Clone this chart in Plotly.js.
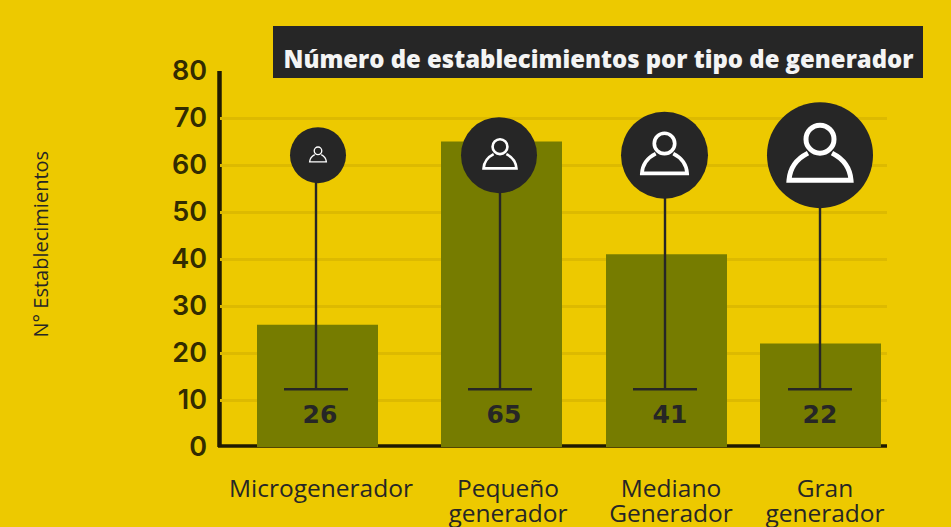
<!DOCTYPE html>
<html><head><meta charset="utf-8">
<script src="https://cdn.plot.ly/plotly-3.0.1.min.js"></script>
<style>html,body{margin:0;padding:0;background:#EDC900;overflow:hidden}</style>
</head><body><div id="chart" style="width:951px;height:527px"></div>
<script>
const categories = ['Microgenerador','Pequeño<br>generador','Mediano<br>Generador','Gran<br>generador'];
const establishments = [26,65,41,22];
const yTicks = [0,10,20,30,40,50,60,70,80];
const barCentres = [97.5,281.5,446.5,600.5];
const labelCentres = [101,288,451,605];
const valueCentres = [100,284,450,600];
const stemCentres = [96,280,445,600];
const circleCentres = [98,279,444.5,600];
const circleDiameters = [56,76,87,106];
const iconScales = [0.27,0.53,0.73,1];
const sharpLevels = [30,40,60];

const INK = '#262626';
const AXIS = '#1F1A00';
const circleLevel = 62.1, crossLevel = 12.3, valueLevel = 6.4;

const stemX = [], stemY = [];
stemCentres.forEach(x => {
  stemX.push(x, x, null, x-32, x+32, null);
  stemY.push(crossLevel, circleLevel, null, crossLevel, crossLevel, null);
});

function iconShapes(cx, s){
  const base = {type:'path', xref:'x', yref:'y', xsizemode:'pixel', ysizemode:'pixel',
    xanchor:cx, yanchor:circleLevel, layer:'above', fillcolor:'rgba(0,0,0,0)',
    line:{color:'#ffffff', width:5*s}};
  const p = v => (v*s).toFixed(2);
  const head = `M0,${p(30)} C${p(7.7)},${p(30)} ${p(14)},${p(23.7)} ${p(14)},${p(16)} C${p(14)},${p(8.3)} ${p(7.7)},${p(2)} 0,${p(2)} C${p(-7.7)},${p(2)} ${p(-14)},${p(8.3)} ${p(-14)},${p(16)} C${p(-14)},${p(23.7)} ${p(-7.7)},${p(30)} 0,${p(30)} Z`;
  const body = `M${p(-12)},${p(2)} C${p(-22)},${p(-3)} ${p(-30)},${p(-12)} ${p(-31)},${p(-25)} L${p(31)},${p(-25)} C${p(30)},${p(-12)} ${p(22)},${p(-3)} ${p(12)},${p(2)}`;
  return [Object.assign({},base,{path:head}), Object.assign({},base,{path:body})];
}

const shapes = [];
sharpLevels.forEach(v => shapes.push({type:'line', xref:'paper', yref:'y', x0:0, x1:1, y0:v, y1:v,
  layer:'below', line:{color:'#B89A00', width:1}}));
// axis lines sit under the bars, as in the reference
shapes.push({type:'line', xref:'paper', yref:'paper', x0:-2/667, x1:1, y0:1/376, y1:1/376,
  layer:'below', line:{color:AXIS, width:3.5}});
shapes.push({type:'line', xref:'paper', yref:'paper', x0:-0.5/667, x1:-0.5/667, y0:0, y1:1,
  layer:'below', line:{color:AXIS, width:4.5}});
shapes.push({type:'rect', xref:'paper', yref:'paper',
  x0:(273-220)/667, x1:(923-220)/667, y0:(447-78)/376, y1:(447-26)/376,
  fillcolor:INK, line:{width:0}, layer:'above'});
circleCentres.forEach((x,i) => shapes.push(...iconShapes(x+(i===1?1:0), iconScales[i])));

const data = [
  {type:'bar', x:barCentres, y:establishments, width:121, marker:{color:'#767C00', line:{width:0}}, hoverinfo:'skip'},
  {type:'scatter', mode:'lines', x:stemX, y:stemY, line:{color:INK, width:2.4}, connectgaps:false, hoverinfo:'skip'},
  {type:'scatter', mode:'markers', x:circleCentres, y:circleCentres.map(()=>circleLevel),
   marker:{color:INK, size:circleDiameters, opacity:1, line:{width:0}}, cliponaxis:false, hoverinfo:'skip'},
  {type:'scatter', mode:'text', x:valueCentres, y:establishments.map(()=>valueLevel),
   text:establishments.map(String), textposition:'middle center',
   textfont:{family:'DejaVu Sans', size:25, color:INK, weight:700}, hoverinfo:'skip'}
];

const layout = {
  width:951, height:527, showlegend:false,
  paper_bgcolor:'#EDC900', plot_bgcolor:'#EDC900',
  margin:{l:220, r:64, t:71, b:80},
  title:{text:'Número de establecimientos por tipo de generador',
    font:{family:'Open Sans', size:23.9, color:'#F4F4F4', weight:800},
    xref:'container', yref:'container', x:598.5/951, y:1-60/527, xanchor:'center', yanchor:'middle'},
  xaxis:{range:[0,667], tickvals:labelCentres,
    ticktext:categories.map(c => c.split('<br>').map(l => `<span style="font-size:24.5px">${l}</span>`).join('<br>')),
    showgrid:false, zeroline:false, showline:false, ticks:'', ticklabelstandoff:30,
    tickfont:{family:'Open Sans', size:19.2, color:INK, weight:500}, tickangle:0},
  yaxis:{range:[0,80], tickvals:yTicks, showgrid:true, gridcolor:'#DDBA00', gridwidth:3, zeroline:false,
    showline:false, ticks:'', ticklabelstandoff:12,
    tickfont:{family:'Inter', size:27, color:'#332C00', weight:600}},
  annotations:[{text:'N° Establecimientos', xref:'paper', yref:'paper', x:(39.5-220)/667, y:(447-244)/376,
    xanchor:'center', yanchor:'middle', textangle:-90, showarrow:false,
    font:{family:'Open Sans', size:20, color:INK}}],
  shapes:shapes
};
Plotly.newPlot('chart', data, layout, {displayModeBar:false, staticPlot:true});
</script></body></html>
